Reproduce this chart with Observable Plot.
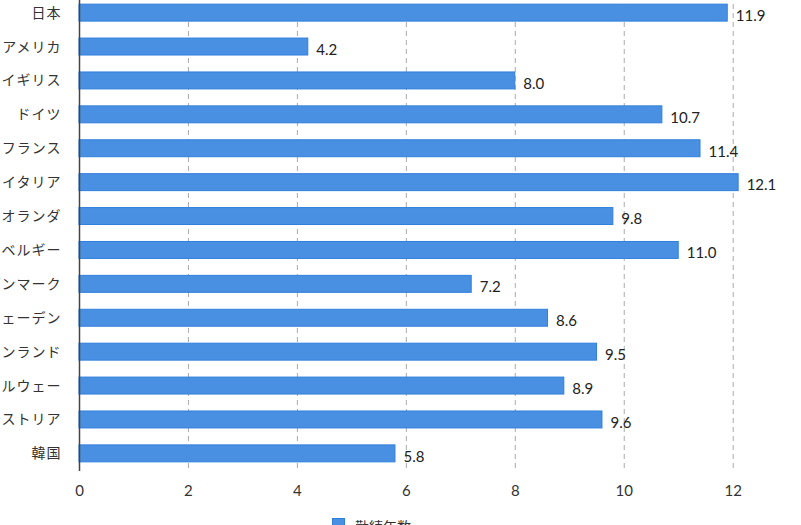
<!DOCTYPE html>
<html>
<head>
<meta charset="utf-8">
<script src="https://cdn.jsdelivr.net/npm/d3@7"></script>
<script src="https://cdn.jsdelivr.net/npm/@observablehq/plot@0.6"></script>
<style>
  html, body { margin: 0; padding: 0; background: #fff; overflow: hidden; }
  #wrap { position: relative; width: 801px; height: 525px; overflow: hidden; }
  #chart { position: absolute; left: 0; top: -5px; }
  #legend { position: absolute; left: 332px; top: 516px; display: flex; align-items: flex-start;
            font-family: "Noto Sans CJK JP", sans-serif; font-size: 14px; color: #333; }
  #legend .sw { width: 13px; height: 13px; background: #4a90e2; border: 1px solid #2f7fdc; box-sizing: border-box; margin-right: 10px; margin-top: 2px; }
</style>
</head>
<body>
<div id="wrap">
  <div id="chart"></div>
  <div id="legend"><div class="sw"></div><div>勤続年数</div></div>
</div>
<script>
const countries = ["日本", "アメリカ", "イギリス", "ドイツ", "フランス", "イタリア", "オランダ", "ベルギー", "デンマーク", "スウェーデン", "フィンランド", "ノルウェー", "オーストリア", "韓国"];
const years = [11.9, 4.2, 8.0, 10.7, 11.4, 12.1, 9.8, 11.0, 7.2, 8.6, 9.5, 8.9, 9.6, 5.8];
const xTicks = [0, 2, 4, 6, 8, 10, 12];
const gridTicks = [2, 4, 6, 8, 10, 12];
const seriesName = "勤続年数";

const data = countries.map((c, i) => ({country: c, value: years[i]}));

const plot = Plot.plot({
  width: 801,
  height: 516,
  marginTop: 0,
  marginLeft: 79,
  marginRight: 28,
  marginBottom: 40,
  style: {background: "transparent", overflow: "hidden"},
  x: {domain: [0, 12.74], ticks: xTicks, label: null},
  y: {domain: countries, paddingInner: 0.5, paddingOuter: 0.27, round: false, label: null},
  marks: [
    Plot.ruleX(gridTicks, {stroke: "#aaa", strokeDasharray: "5,4", strokeWidth: 1}),
    Plot.barX(data, {x: "value", y: "country", fill: "#4a90e2", stroke: "#2f7fdc", strokeWidth: 1}),
    Plot.text(data, {x: "value", y: "country", text: d => d.value.toFixed(1), textAnchor: "start", dx: 8, dy: 3,
      fill: "#222", fontSize: 15, fontFamily: "Lato, sans-serif"}),
    Plot.axisY({tickSize: 0, tickPadding: 18, fontSize: 14, fontFamily: "'Noto Sans CJK JP', sans-serif", color: "#333",
      letterSpacing: 1}),
    Plot.axisX({ticks: xTicks, tickSize: 0, tickPadding: 14, fontSize: 15, fontFamily: "Lato, sans-serif", color: "#333", tickFormat: d => String(d)}),
    Plot.ruleX([0], {stroke: "#444", strokeWidth: 1.5}),
    Plot.ruleY([0], {frameAnchor: "bottom", stroke: "#111", strokeWidth: 1.5})
  ]
});
plot.querySelectorAll("[aria-label='y-axis tick label'] text").forEach(t => t.setAttribute("letter-spacing", "1"));
document.getElementById("chart").appendChild(plot);
</script>
</body>
</html>
